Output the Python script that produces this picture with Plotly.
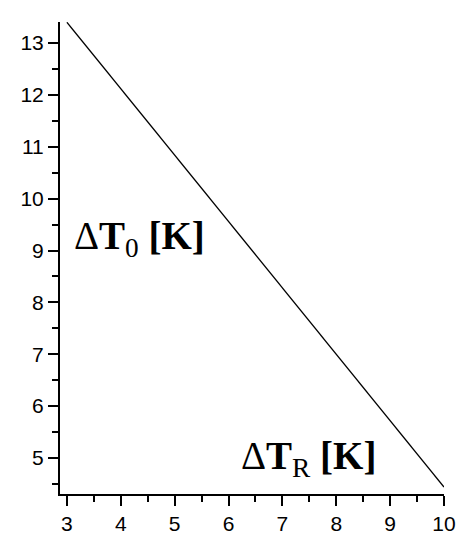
import plotly.graph_objects as go

# values
dT_R = [3.0, 10.0]
dT_0 = [13.40, 4.44]

x_ticks = [3, 4, 5, 6, 7, 8, 9, 10]
y_ticks = [5, 6, 7, 8, 9, 10, 11, 12, 13]

fig = go.Figure()
fig.add_trace(go.Scatter(x=dT_R, y=dT_0, mode="lines",
                         line=dict(color="black", width=1.3),
                         showlegend=False, hoverinfo="skip"))

axis_style = dict(
    showgrid=False, zeroline=False,
    showline=True, linecolor="black", linewidth=2,
    ticks="outside", ticklen=10, tickwidth=2, tickcolor="black",
    minor=dict(ticks="outside", ticklen=6, tickwidth=2, tickcolor="black", dtick=0.5),
    tickfont=dict(family="Liberation Sans", size=21, color="black"),
)

fig.update_xaxes(range=[2.872, 10.0], tickvals=x_ticks, **axis_style)
fig.update_yaxes(range=[4.306, 13.405], tickvals=y_ticks, **axis_style)

label_font = dict(family="Liberation Serif", size=39, color="black")
fig.add_annotation(x=3.09, y=9.24, xref="x", yref="y", showarrow=False,
                   xanchor="left", yanchor="middle", font=label_font,
                   text="Δ<b>T</b><sub>0</sub> <b>[K]</b>")
fig.add_annotation(x=6.19, y=5.0, xref="x", yref="y", showarrow=False,
                   xanchor="left", yanchor="middle", font=label_font,
                   text="Δ<b>T</b><sub>R</sub> <b>[K]</b>")

# page body has an 8px margin, so the figure is a bit smaller than the window
fig.update_layout(
    width=460, height=542,
    margin=dict(l=48, r=23, t=14, b=56),
    plot_bgcolor="white", paper_bgcolor="white",
)

fig.write_html("out.html")
